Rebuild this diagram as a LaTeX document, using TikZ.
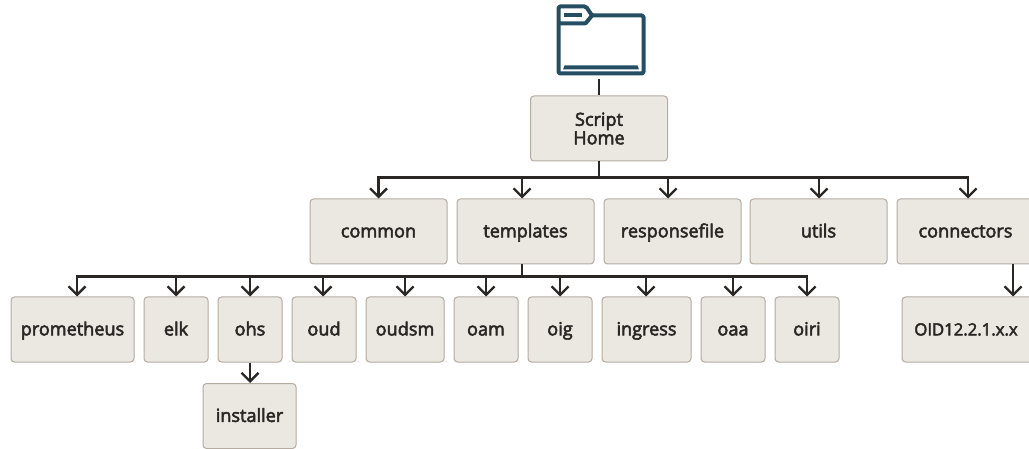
\documentclass[tikz,border=0pt]{standalone}
\usepackage{fontspec}
\setmainfont{Open Sans}[FakeBold=3]
\usetikzlibrary{arrows.meta}
\definecolor{boxfill}{HTML}{EBE8E2}
\definecolor{boxline}{HTML}{B5ABA1}
\definecolor{ink}{HTML}{2B2725}
\definecolor{folder}{HTML}{254E63}
\newcommand\tstrut{\rule[-4.2pt]{0pt}{20.2pt}}
\tikzset{
  box/.style={draw=boxline,fill=boxfill,line width=1pt,rounded corners=3.5pt,minimum height=65pt,
    inner sep=0pt,align=center,text=ink,font=\fontsize{18.1}{19.5}\selectfont},
  conn/.style={draw=ink,line width=2.2pt},
  arr/.style={conn,-{Straight Barb[length=8.5pt,width=17pt,line width=2.3pt]}},
  folderline/.style={draw=folder,line width=4pt,line join=round},
}
\begin{document}
\begin{tikzpicture}[x=1pt,y=-1pt]
\useasboundingbox (0,0) rectangle (1029,449);
\clip (0,0) rectangle (1029,449);
% folder icon
\draw[folderline,rounded corners=1.5pt] (558.5,73.5) -- (558.5,6.5) -- (586,6.5) -- (592,15.5) -- (643.5,15.5) -- (643.5,73.5) -- cycle;
\draw[folderline,rounded corners=1pt] (558.5,23.5) -- (585.5,23.5) -- (592,15.5);
\draw[folderline] (564,14.7) -- (582,14.7);
\fill[folder] (563,69.5) -- (564.5,65.5) -- (637.5,65.5) -- (639,69.5) -- cycle;
\coordinate (icon) at (599,79);
% nodes
\node[box,minimum width=137pt] (script) at (599,128.5) {Script\\[-1pt]Home};
\foreach \n/\c/\t in {common/378.5/common,templates/525.5/templates,responsefile/672.5/responsefile,utils/818.5/utils,connectors/965.5/connectors}{
  \node[box,minimum width=137pt] (\n) at (\c,231.5) {\tstrut\t};
}
\foreach \n/\c/\w/\t in {prom/72.5/123/prometheus,elk/176/64/elk,ohs/250/64/ohs,oud/324/64/oud,oudsm/405/78/oudsm,oam/486/64/oam,oig/560/64/oig,ingress/646.5/89/ingress,oaa/733/64/oaa,oiri/807/64/oiri}{
  \node[box,minimum width=\w pt] (\n) at (\c,329.5) {\tstrut\t};
}
\node[box,minimum width=93pt] (installer) at (249.5,416) {\tstrut installer};
\node[box,minimum width=137pt,text width=137pt] (oid) at (970.5,329.5) {\hspace*{-9pt}\fontsize{16.7}{19.5}\selectfont\tstrut OID12.2.1.x.x};
% connectors
\draw[conn] (icon) -- (script.north);
\foreach \n/\dx in {common/0,templates/-3.5,responsefile/-4.5,utils/0.5,connectors/2.5}{
  \draw[arr] (script.south) -- ++(0,16) -| ([xshift=\dx pt]\n.north);
}
\foreach \n/\dx in {prom/4.5,elk/0,ohs/0,oud/-1,oudsm/0,oam/0,oig/0,ingress/-0.5,oaa/0,oiri/0}{
  \draw[arr] ([xshift=-3.5pt]templates.south) -- ++(0,12) -| ([xshift=\dx pt]\n.north);
}
\draw[arr] (ohs.south) -- (installer.north-|ohs.south);
\draw[arr] ([xshift=47.5pt]connectors.south) -- ([xshift=42.5pt]oid.north);
\end{tikzpicture}
\end{document}
